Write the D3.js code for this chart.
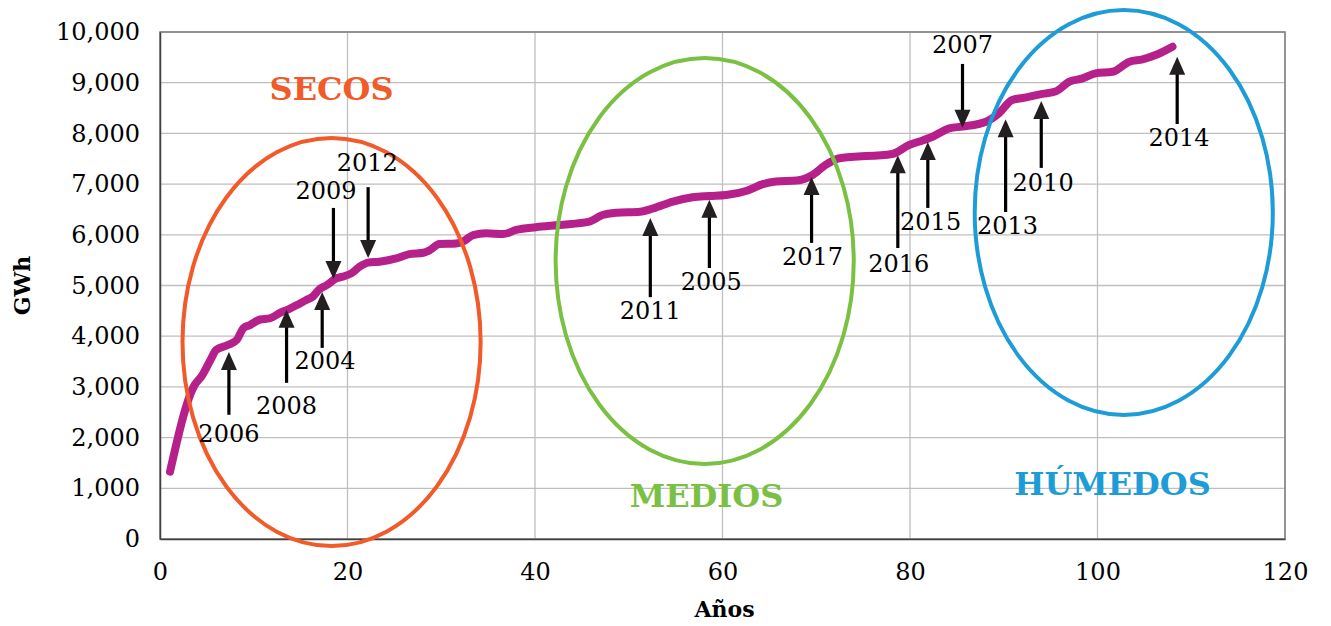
<!DOCTYPE html>
<html>
<head>
<meta charset="utf-8">
<script src="https://cdn.jsdelivr.net/npm/d3@7"></script>
<style>
  html, body { margin: 0; padding: 0; background: #fff; }
  svg { display: block; }
</style>
</head>
<body>
<svg id="chart" width="1331" height="626"></svg>
<script>
// ---------- data ----------
const rankYears = [1.07, 3.7, 4.4, 5.3, 6.0, 7.3, 8.2, 8.9, 9.6, 10.7, 11.7, 12.8, 13.7, 14.6, 15.6, 16.3, 16.9, 17.8, 18.8,
  19.5, 20.4, 21.3, 22.2, 23.4, 25.2, 26.6, 28.1, 28.8, 29.8, 31.6, 32.3, 33.4, 34.8, 36.6, 38.0, 40.1,
  42.6, 45.8, 47.2, 48.7, 51.2, 52.6, 54.7, 56.8, 58.6, 60.4, 62.6, 64.3, 65.7, 67.9, 69.6, 71.0, 72.5,
  78.1, 79.9, 81.0, 82.4, 84.2, 85.6, 88.1, 89.5, 90.9, 92.4, 94.1, 95.5, 97.0, 98.4, 99.8, 101.6, 103.4, 104.8, 106.2, 108.0];
const energyGWh = [1330, 3040, 3200, 3500, 3730, 3830, 3930, 4160, 4220, 4330, 4350, 4460, 4530, 4615, 4715, 4780, 4910, 5010, 5140,
  5175, 5240, 5370, 5450, 5470, 5535, 5620, 5645, 5700, 5820, 5830, 5865, 5995, 6030, 6015, 6095, 6150,
  6195, 6260, 6390, 6435, 6455, 6520, 6655, 6740, 6765, 6785, 6870, 7000, 7050, 7070, 7180, 7380, 7510,
  7595, 7770, 7840, 7935, 8100, 8135, 8230, 8400, 8660, 8710, 8780, 8825, 9020, 9085, 9185, 9215, 9415, 9460, 9545, 9710];

const xTicks = [0, 20, 40, 60, 80, 100, 120];
const yTicks = [0, 1000, 2000, 3000, 4000, 5000, 6000, 7000, 8000, 9000, 10000];

// annotation arrows: label, rank (x), tip value, tail value, label position (rank, value)
const arrowLabels = ["2006", "2008", "2004", "2009", "2012", "2011", "2005", "2017", "2016", "2015", "2007", "2013", "2010", "2014"];
const arrowRank   = [7.35, 13.5, 17.3, 18.5, 22.2, 52.3, 58.6, 69.5, 78.7, 81.9, 85.6, 90.2, 94.0, 108.5];
const arrowTip    = [3690, 4520, 4870, 5130, 5540, 6330, 6690, 7140, 7570, 7830, 8110, 8280, 8640, 9510];
const arrowTail   = [2450, 3080, 3770, 6530, 6940, 4770, 5345, 5840, 5740, 6530, 9370, 6450, 7320, 8185];
const labelRank   = [7.35, 13.5, 17.6, 17.7, 22.1, 52.3, 58.8, 69.6, 78.8, 82.2, 85.6, 90.4, 94.2, 108.7];
const labelValue  = [2070, 2620, 3510, 6865, 7420, 4500, 5070, 5560, 5420, 6250, 9750, 6180, 7020, 7910];

// groups: name, center rank, center value, radius in rank units, radius in GWh
const groupNames  = ["SECOS", "MEDIOS", "HÚMEDOS"];
const groupCx     = [18.3, 58.1, 102.8];
const groupCy     = [3886, 5483, 6440];
const groupRx     = [15.9, 15.9, 15.9];
const groupRy     = [4024, 4004, 3994];
const groupLabelX = [18.3, 58.3, 101.6];
const groupLabelY = [8880, 850, 1080];
const groupColors = ["#F15A29", "#7AC143", "#1E9CD7"];

// ---------- layout ----------
const svg = d3.select("#chart");
const margin = { left: 160, right: 1331 - 1285, top: 32, bottom: 626 - 539 };
const W = 1331, H = 626;
const x = d3.scaleLinear().domain([0, 120]).range([margin.left, W - margin.right]);
const y = d3.scaleLinear().domain([0, 10000]).range([H - margin.bottom, margin.top]);
const FONT = "'DejaVu Serif', 'Liberation Serif', serif";

// gridlines
svg.append("g")
  .selectAll("line.h").data(yTicks).join("line")
  .attr("x1", x(0)).attr("x2", x(120))
  .attr("y1", d => y(d)).attr("y2", d => y(d))
  .attr("stroke", "#BFBFBF").attr("stroke-width", 1.3);
svg.append("g")
  .selectAll("line.v").data(xTicks).join("line")
  .attr("x1", d => x(d)).attr("x2", d => x(d))
  .attr("y1", y(0)).attr("y2", y(10000))
  .attr("stroke", "#BFBFBF").attr("stroke-width", 1.3);

// border
svg.append("rect")
  .attr("x", x(0)).attr("y", y(10000))
  .attr("width", x(120) - x(0)).attr("height", y(0) - y(10000))
  .attr("fill", "none").attr("stroke", "#7F7F7F").attr("stroke-width", 1.5);

// axes
const xAxis = d3.axisBottom(x).tickValues(xTicks).tickSize(0).tickPadding(24).tickFormat(d3.format("d"));
const gx = svg.append("g").attr("transform", `translate(0,${y(0)})`).call(xAxis);
gx.select(".domain").attr("stroke", "#404040").attr("stroke-width", 1.5);
gx.selectAll("text").attr("font-family", FONT).attr("font-size", 24).attr("fill", "#000");

const yAxis = d3.axisLeft(y).tickValues(yTicks).tickSize(0).tickPadding(20).tickFormat(d3.format(","));
const gy = svg.append("g").attr("transform", `translate(${x(0)},0)`).call(yAxis);
gy.select(".domain").attr("stroke", "#404040").attr("stroke-width", 1.5);
gy.selectAll("text").attr("font-family", FONT).attr("font-size", 24).attr("fill", "#000");

// axis titles
svg.append("text")
  .attr("x", (x(0) + x(120)) / 2 + 2).attr("y", 617)
  .attr("text-anchor", "middle")
  .attr("font-family", FONT).attr("font-weight", "bold").attr("font-size", 22)
  .text("Años");
svg.append("text")
  .attr("transform", `translate(30,${(y(0) + y(10000)) / 2}) rotate(-90)`)
  .attr("text-anchor", "middle")
  .attr("font-family", FONT).attr("font-weight", "bold").attr("font-size", 22)
  .text("GWh");

// curve
const pts = rankYears.map((r, i) => [r, energyGWh[i]]);
svg.append("path")
  .datum(pts)
  .attr("fill", "none")
  .attr("stroke", "#B5208A")
  .attr("stroke-width", 8)
  .attr("stroke-linecap", "round")
  .attr("stroke-linejoin", "round")
  .attr("d", d3.line().x(d => x(d[0])).y(d => y(d[1])).curve(d3.curveMonotoneX));

// ellipses
groupNames.forEach((name, i) => {
  svg.append("ellipse")
    .attr("cx", x(groupCx[i])).attr("cy", y(groupCy[i]))
    .attr("rx", x(groupRx[i]) - x(0)).attr("ry", y(0) - y(groupRy[i]))
    .attr("fill", "none").attr("stroke", groupColors[i]).attr("stroke-width", 4);
  svg.append("text")
    .attr("x", x(groupLabelX[i])).attr("y", y(groupLabelY[i]))
    .attr("text-anchor", "middle").attr("dominant-baseline", "central")
    .attr("font-family", FONT).attr("font-weight", "bold").attr("font-size", 32)
    .attr("fill", groupColors[i])
    .text(name);
});

// arrows
const headLen = 18, headHalf = 8;
arrowLabels.forEach((lab, i) => {
  const ax = x(arrowRank[i]);
  const tipY = y(arrowTip[i]);
  const tailY = y(arrowTail[i]);
  const dir = tailY > tipY ? 1 : -1; // 1 = points up
  svg.append("line")
    .attr("x1", ax).attr("x2", ax)
    .attr("y1", tailY).attr("y2", tipY + dir * (headLen - 2))
    .attr("stroke", "#000").attr("stroke-width", 3.2);
  svg.append("path")
    .attr("d", `M${ax},${tipY} L${ax - headHalf},${tipY + dir * headLen} L${ax + headHalf},${tipY + dir * headLen} Z`)
    .attr("fill", "#231F20");
  svg.append("text")
    .attr("x", x(labelRank[i])).attr("y", y(labelValue[i]))
    .attr("text-anchor", "middle").attr("dominant-baseline", "central")
    .attr("font-family", FONT).attr("font-size", 24).attr("fill", "#000")
    .text(lab);
});
</script>
</body>
</html>
